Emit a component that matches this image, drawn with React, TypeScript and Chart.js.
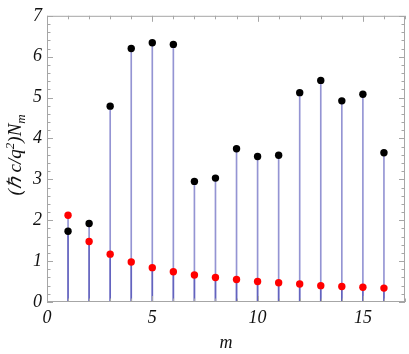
import React, { useEffect, useRef } from "react";
import { Chart, registerables } from "chart.js";

Chart.register(...registerables);

const mValues = [1, 2, 3, 4, 5, 6, 7, 8, 9, 10, 11, 12, 13, 14, 15, 16];
const blackValues = [1.73, 1.92, 4.79, 6.2, 6.34, 6.3, 2.95, 3.03, 3.75, 3.56, 3.59, 5.12, 5.42, 4.92, 5.08, 3.65];
const redValues = [2.12, 1.48, 1.17, 0.98, 0.84, 0.74, 0.66, 0.6, 0.55, 0.5, 0.47, 0.44, 0.4, 0.38, 0.36, 0.34];
const xTickValues = [0, 5, 10, 15];
const yTickValues = [0, 1, 2, 3, 4, 5, 6, 7];
const xMin = 0;
const xMax = 17;
const yMin = 0;
const yMax = 7;

const SERIF = "'Liberation Serif', 'Times New Roman', serif";
const FRAME = "#a6a6a6";
const STEM = "rgba(60, 60, 175, 0.55)";

const framePlugin = {
  id: "mmaFrame",
  afterDraw(chart: any) {
    const { ctx, chartArea: a, scales } = chart;
    const xs = scales.x;
    const ys = scales.y;
    ctx.save();
    ctx.strokeStyle = FRAME;
    ctx.lineWidth = 1;
    ctx.strokeRect(a.left + 0.5, a.top + 0.5, a.right - a.left - 1, a.bottom - a.top - 1);
    ctx.beginPath();
    for (let v = xMin; v <= xMax + 1e-9; v += 1) {
      const px = Math.round(xs.getPixelForValue(v)) + 0.5;
      const len = v % 5 === 0 ? 6 : 3.5;
      ctx.moveTo(px, a.bottom);
      ctx.lineTo(px, a.bottom - len);
      ctx.moveTo(px, a.top);
      ctx.lineTo(px, a.top + len);
    }
    for (let i = 0; i <= (yMax - yMin) * 5; i++) {
      const v = yMin + i * 0.2;
      const py = Math.round(ys.getPixelForValue(v)) + 0.5;
      const len = i % 5 === 0 ? 6 : 3.5;
      ctx.moveTo(a.left, py);
      ctx.lineTo(a.left + len, py);
      ctx.moveTo(a.right, py);
      ctx.lineTo(a.right - len, py);
    }
    ctx.stroke();

    // y-axis title: (ℏ c/q²)N_m
    const cx = 15;
    const cy = (a.top + a.bottom) / 2 - 4;
    ctx.translate(cx, cy);
    ctx.rotate(-Math.PI / 2);
    ctx.fillStyle = "#111";
    ctx.textBaseline = "alphabetic";
    const big = `italic 19px ${SERIF}`;
    const small = `italic 13px ${SERIF}`;
    const parts: [string, string, number][] = [
      ["(ℏ c/q", big, 0],
      ["2", small, -7],
      [")N", big, 0],
      ["m", small, 4],
    ];
    let total = 0;
    for (const [t, f] of parts) {
      ctx.font = f;
      total += ctx.measureText(t).width;
    }
    let x = -total / 2;
    for (const [t, f, dy] of parts) {
      ctx.font = f;
      ctx.fillText(t, x, 6 + dy);
      x += ctx.measureText(t).width;
    }
    ctx.restore();
  },
};

export default function App() {
  const ref = useRef<HTMLCanvasElement | null>(null);
  useEffect(() => {
    if (!ref.current) return;
    const stemTop = mValues.map((m, i) => ({ x: m, y: blackValues[i] }));
    const stemRed = mValues.map((m, i) => ({ x: m, y: redValues[i] }));
    const chart = new Chart(ref.current, {
      type: "scatter",
      data: {
        datasets: [
          {
            type: "scatter",
            data: mValues.map((m, i) => ({ x: m, y: blackValues[i] })),
            backgroundColor: "#000",
            borderWidth: 0,
            pointRadius: 3.7,
            order: 1,
          } as any,
          {
            type: "scatter",
            data: mValues.map((m, i) => ({ x: m, y: redValues[i] })),
            backgroundColor: "#ff0000",
            borderWidth: 0,
            pointRadius: 3.7,
            order: 0,
          } as any,
          {
            type: "bar",
            data: stemTop,
            backgroundColor: STEM,
            borderWidth: 0,
            barThickness: 1,
            grouped: false,
            order: 5,
          } as any,
          {
            type: "bar",
            data: stemRed,
            backgroundColor: STEM,
            borderWidth: 0,
            barThickness: 1,
            grouped: false,
            order: 4,
          } as any,
        ],
      },
      options: {
        animation: false,
        responsive: false,
        maintainAspectRatio: false,
        layout: { padding: { top: 13, right: 1, left: 0, bottom: 0 } },
        plugins: { legend: { display: false }, tooltip: { enabled: false } },
        scales: {
          x: {
            type: "linear",
            min: xMin,
            max: xMax,
            offset: false,
            grid: { display: false, drawTicks: false },
            border: { display: false },
            afterBuildTicks: (s: any) => {
              s.ticks = xTickValues.map((v) => ({ value: v }));
            },
            afterFit: (s: any) => {
              s.height = 52;
            },
            ticks: {
              padding: 5,
              color: "#111",
              font: { family: SERIF, size: 18, style: "italic" },
              maxRotation: 0,
              autoSkip: false,
            },
            title: {
              display: true,
              text: "m",
              color: "#111",
              font: { family: SERIF, size: 18, style: "italic" },
              padding: { top: 0, bottom: 0 },
            },
          },
          y: {
            type: "linear",
            min: yMin,
            max: yMax,
            grid: { display: false, drawTicks: false },
            border: { display: false },
            afterBuildTicks: (s: any) => {
              s.ticks = yTickValues.map((v) => ({ value: v }));
            },
            afterFit: (s: any) => {
              s.width = 47;
            },
            ticks: {
              padding: 5,
              color: "#111",
              font: { family: SERIF, size: 18, style: "italic" },
              autoSkip: false,
            },
          },
        },
      },
      plugins: [framePlugin],
    } as any);
    return () => chart.destroy();
  }, []);
  return (
    <div style={{ position: "absolute", left: 0, top: 0, width: 409, height: 354, background: "#fff" }}>
      <canvas ref={ref} width={409} height={354} style={{ display: "block" }} />
    </div>
  );
}
